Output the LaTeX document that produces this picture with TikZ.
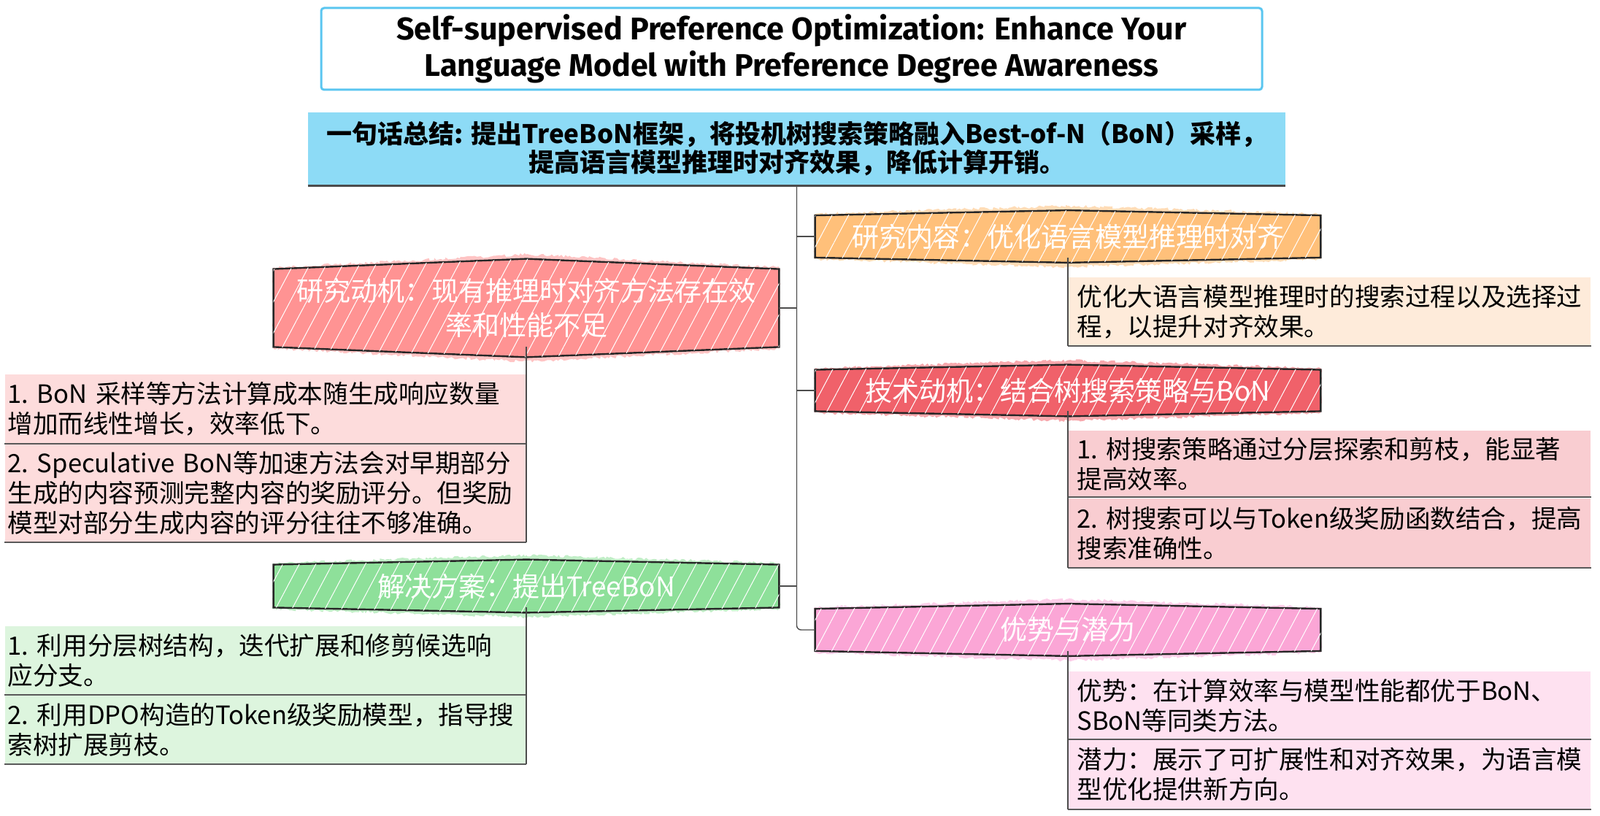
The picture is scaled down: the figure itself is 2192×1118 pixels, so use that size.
\documentclass[tikz,border=0pt]{standalone}
\usepackage{fontspec}
\setmainfont{Noto Sans CJK SC}
\newfontfamily\titlefont{Fira Sans}
\usetikzlibrary{backgrounds,patterns.meta,decorations.pathmorphing}
\hyphenpenalty=10000

\definecolor{titleblue}{HTML}{5BC6F0}
\definecolor{sumblue}{HTML}{8DDBF6}
\definecolor{hexorange}{HTML}{FFC07A}
\definecolor{leaforange}{HTML}{FEEBDA}
\definecolor{hexsalmon}{HTML}{FF9393}
\definecolor{leafsalmon}{HTML}{FDDCDC}
\definecolor{hexred}{HTML}{F0616A}
\definecolor{leafred}{HTML}{F9CDD1}
\definecolor{hexgreen}{HTML}{8EE09A}
\definecolor{leafgreen}{HTML}{DDF5DE}
\definecolor{hexpink}{HTML}{FBA6D6}
\definecolor{leafpink}{HTML}{FEE1F0}

\tikzset{
  link/.style={draw=black!70, line width=0.7pt, rounded corners=3pt},
  rule/.style={draw=black!65, line width=1.1pt},
  hexline/.style={draw=black!85, line width=1.2pt},
  hatch/.style={postaction={fill opacity=0.25, pattern={Lines[angle=62,distance=10pt,line width=0.5pt]}, pattern color=white}},
  hexlabel/.style={text=white, align=center, minimum width=346pt, inner sep=0pt,
    font=\fontsize{18.5}{23.5}\selectfont},
  leaf/.style={inner ysep=0pt, align=left, font=\fontsize{17.3}{20.5}\selectfont},
  leafL/.style={leaf, anchor=north east, text width=353pt, inner xsep=2pt},
  leafR/.style={leaf, anchor=north west, text width=346pt, inner xsep=6pt},
}

% hexagon behind a heading node: name, colour, peak height
\newcommand{\hexback}[3]{%
  \fill[#2!55, decorate, decoration={random steps,segment length=1.5pt,amplitude=1pt}]
    ([yshift=1pt]#1.north west) -- ([yshift=#3+3pt]#1.north) -- ([yshift=1pt]#1.north east)
    -- ([yshift=-1pt]#1.south east) -- ([yshift=-#3-3pt]#1.south) -- ([yshift=-1pt]#1.south west) -- cycle;
  \draw[hexline, fill=#2, hatch] (#1.north west) -- ([yshift=#3]#1.north) -- (#1.north east)
    -- (#1.south east) -- ([yshift=-#3]#1.south) -- (#1.south west) -- cycle;
}

\begin{document}
\begin{tikzpicture}[x=0.5pt,y=-0.5pt]
\useasboundingbox (0,0) rectangle (2192,1118);

\node[draw=titleblue, line width=1.5pt, rounded corners=2pt, fill=white, align=center,
  minimum width=644.5pt, minimum height=56pt, font=\titlefont\bfseries\fontsize{21.5}{25}\selectfont]
  (title) at (1084.5,67) {Self-supervised Preference Optimization: Enhance Your\\Language Model with Preference Degree Awareness};

\node[fill=sumblue, align=center, minimum width=669.5pt, minimum height=50pt,
  font=\bfseries\fontsize{17.5}{19.5}\selectfont]
  (summary) at (1091.5,204) {一句话总结: 提出TreeBoN框架，将投机树搜索策略融入Best-of-N（BoN）采样，\\提高语言模型推理时对齐效果，降低计算开销。};
\draw[draw=black!70, line width=1.5pt] (summary.south west) -- (summary.south east);

% headings
\node[hexlabel, minimum height=28.5pt] (content) at (1463,324) {研究内容：优化语言模型推理时对齐};
\node[hexlabel, minimum height=53pt] (motive) at (721,422) {研究动机：现有推理时对齐方法存在效\\率和性能不足};
\node[hexlabel, minimum height=28pt] (tech) at (1463,535) {技术动机：结合树搜索策略与BoN};
\node[hexlabel, minimum height=29pt] (solution) at (721,803) {解决方案：提出TreeBoN};
\node[hexlabel, minimum height=28.5pt] (merit) at (1463,863) {优势与潜力};

\begin{scope}[on background layer]
  \hexback{content}{hexorange}{3.5pt}
  \hexback{motive}{hexsalmon}{7pt}
  \hexback{tech}{hexred}{3.5pt}
  \hexback{solution}{hexgreen}{3.5pt}
  \hexback{merit}{hexpink}{3.5pt}
\end{scope}

% details
\node[leafR, fill=leaforange, minimum height=46.5pt] (content1) at (1463,380)
  {优化大语言模型推理时的搜索过程以及选择过\\程，以提升对齐效果。};
\node[leafL, fill=leafsalmon, minimum height=47pt] (motive1) at (721,513)
  {1.~BoN~采样等方法计算成本随生成响应数量\\增加而线性增长，效率低下。};
\node[leafL, fill=leafsalmon, minimum height=67pt] (motive2) at (721,608)
  {2.~Speculative~BoN等加速方法会对早期部分\\生成的内容预测完整内容的奖励评分。但奖励\\模型对部分生成内容的评分往往不够准确。};
\node[leafR, fill=leafred, minimum height=45pt] (tech1) at (1463,590)
  {1.~树搜索策略通过分层探索和剪枝，能显著\\提高效率。};
\node[leafR, fill=leafred, minimum height=47pt] (tech2) at (1463,683)
  {2.~树搜索可以与Token级奖励函数结合，提高\\搜索准确性。};
\node[leafL, fill=leafgreen, minimum height=46.5pt] (sol1) at (721,858)
  {1.~利用分层树结构，迭代扩展和修剪候选响\\应分支。};
\node[leafL, fill=leafgreen, minimum height=47pt] (sol2) at (721,952)
  {2.~利用DPO构造的Token级奖励模型，指导搜\\索树扩展剪枝。};
\node[leafR, fill=leafpink, minimum height=46pt] (merit1) at (1463,920)
  {优势：在计算效率与模型性能都优于BoN、\\SBoN等同类方法。};
\node[leafR, fill=leafpink, minimum height=47.5pt] (merit2) at (1463,1013)
  {潜力：展示了可扩展性和对齐效果，为语言模\\型优化提供新方向。};

\foreach \n in {content1,motive1,motive2,tech1,tech2,sol1,sol2,merit1,merit2}
  \draw[rule] (\n.south west) -- (\n.south east);

% connectors
\draw[link] (summary.south) |- (merit.west);
\draw[link] (content.west -| summary.south) -- (content.west);
\draw[link] (tech.west -| summary.south) -- (tech.west);
\draw[link] (motive.east) -- (motive.east -| summary.south);
\draw[link] (solution.east) -- (solution.east -| summary.south);

\draw[link] (content.south) -- (content1.south west);
\draw[link] (tech.south) -- (tech2.south west);
\draw[link] (merit.south) -- (merit2.south west);
\draw[link] (motive.south) -- (motive2.south east);
\draw[link] (solution.south) -- (sol2.south east);
\end{tikzpicture}
\end{document}
